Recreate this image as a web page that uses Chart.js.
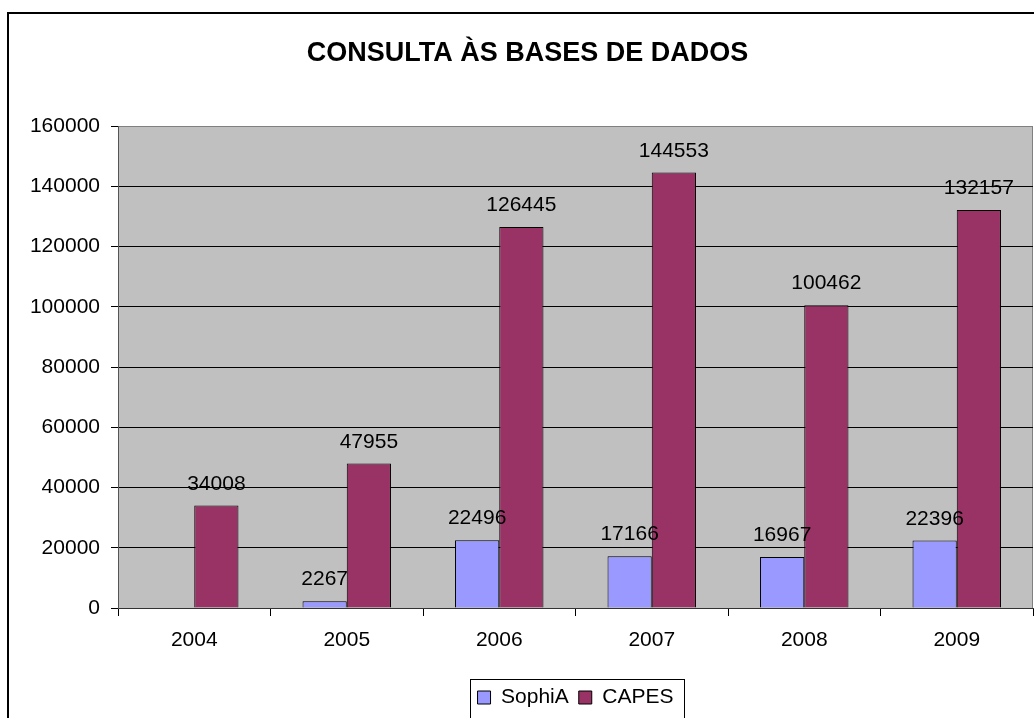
<!DOCTYPE html>
<html>
<head>
<meta charset="utf-8">
<script src="https://cdn.jsdelivr.net/npm/chart.js@4/dist/chart.umd.min.js"></script>
<style>
  html, body { margin: 0; padding: 0; background: #fff; overflow: hidden; }
  #frame {
    position: absolute; left: 7px; top: 12px;
    width: 1100px; height: 800px;
    border-left: 2px solid #000; border-top: 2px solid #000;
  }
  #wrap { position: absolute; left: 0; top: 0; width: 1034px; height: 718px; }
</style>
</head>
<body>
<div id="frame"></div>
<div id="wrap"><canvas id="chart" width="1034" height="718"></canvas></div>
<script>
// dados do gráfico
const years = ['2004', '2005', '2006', '2007', '2008', '2009'];
const sophia = [null, 2267, 22496, 17166, 16967, 22396];
const capes = [34008, 47955, 126445, 144553, 100462, 132157];
const yTicks = [0, 20000, 40000, 60000, 80000, 100000, 120000, 140000, 160000];

const FONT = "'Liberation Sans', Arial, sans-serif";

// fundo cinza da área de plotagem
const plotBackground = {
    id: 'plotBackground',
    beforeDraw(chart) {
        const { ctx, chartArea: a } = chart;
        ctx.save();
        ctx.fillStyle = '#C0C0C0';
        ctx.fillRect(a.left, a.top, a.right - a.left, a.bottom - a.top);
        ctx.strokeStyle = '#808080';
        ctx.lineWidth = 1;
        ctx.strokeRect(a.left + 0.5, a.top + 0.5, a.right - a.left - 1, a.bottom - a.top);
        ctx.restore();
    }
};

// rótulos de valor acima das barras
const valueLabels = {
    id: 'valueLabels',
    afterDatasetsDraw(chart) {
        const { ctx } = chart;
        ctx.save();
        ctx.font = '21px ' + FONT;
        ctx.fillStyle = '#000';
        ctx.textAlign = 'center';
        ctx.textBaseline = 'alphabetic';
        chart.data.datasets.forEach((ds, i) => {
            chart.getDatasetMeta(i).data.forEach((el, j) => {
                const v = ds.data[j];
                if (v === null || v === undefined) return;
                ctx.fillText(String(v), el.x, el.y - 16);
            });
        });
        ctx.restore();
    }
};

// moldura da legenda
const legendFrame = {
    id: 'legendFrame',
    afterDraw(chart) {
        const boxes = chart.legend && chart.legend.legendHitBoxes;
        if (!boxes || !boxes.length) return;
        const left = Math.min(...boxes.map(b => b.left)) - 8;
        const right = Math.max(...boxes.map(b => b.left + b.width)) + 10;
        const mid = boxes[0].top + boxes[0].height / 2;
        const top = Math.round(mid - 19) + 0.5;
        const { ctx } = chart;
        ctx.save();
        ctx.strokeStyle = '#000';
        ctx.lineWidth = 1;
        ctx.strokeRect(Math.round(left) + 0.5, top, Math.round(right - left), 80);
        ctx.restore();
    }
};

new Chart(document.getElementById('chart'), {
    type: 'bar',
    data: {
        labels: years,
        datasets: [
            {
                label: 'SophiA',
                data: sophia,
                backgroundColor: '#9999FF',
                borderColor: '#000',
                borderWidth: 1,
                barPercentage: 1,
                categoryPercentage: 0.58
            },
            {
                label: 'CAPES',
                data: capes,
                backgroundColor: '#993366',
                borderColor: '#000',
                borderWidth: 1,
                barPercentage: 1,
                categoryPercentage: 0.58
            }
        ]
    },
    options: {
        responsive: false,
        animation: false,
        layout: { padding: { left: 22, right: 1, top: 0, bottom: 0 } },
        plugins: {
            title: {
                display: true,
                text: 'CONSULTA ÀS BASES DE DADOS',
                color: '#000',
                font: { family: FONT, size: 27, weight: 'bold' },
                padding: { top: 37, bottom: 56.6 }
            },
            legend: {
                position: 'bottom',
                fullSize: false,
                labels: {
                    color: '#000',
                    font: { family: FONT, size: 21 },
                    boxWidth: 13,
                    boxHeight: 13,
                    padding: 10
                }
            },
            tooltip: { enabled: false }
        },
        scales: {
            x: {
                afterFit: (scale) => { scale.height = 69; },
                grid: {
                    drawOnChartArea: false,
                    drawTicks: true,
                    tickLength: 8,
                    tickColor: '#000'
                },
                border: { color: '#333', width: 1 },
                ticks: {
                    color: '#000',
                    font: { family: FONT, size: 21 },
                    padding: 12,
                    maxRotation: 0
                }
            },
            y: {
                min: 0,
                max: 160000,
                afterFit: (scale) => { scale.width = 96; },
                afterBuildTicks: (scale) => { scale.ticks = yTicks.map(v => ({ value: v })); },
                grid: {
                    color: (c) => (c.tick && c.tick.value === 160000 ? '#808080' : '#000'),
                    tickColor: '#000',
                    tickLength: 7,
                    lineWidth: 1
                },
                border: { color: '#555', width: 1 },
                ticks: {
                    color: '#000',
                    font: { family: FONT, size: 21 },
                    padding: 11,
                    callback: (v) => String(v)
                }
            }
        }
    },
    plugins: [plotBackground, valueLabels, legendFrame]
});
</script>
</body>
</html>
